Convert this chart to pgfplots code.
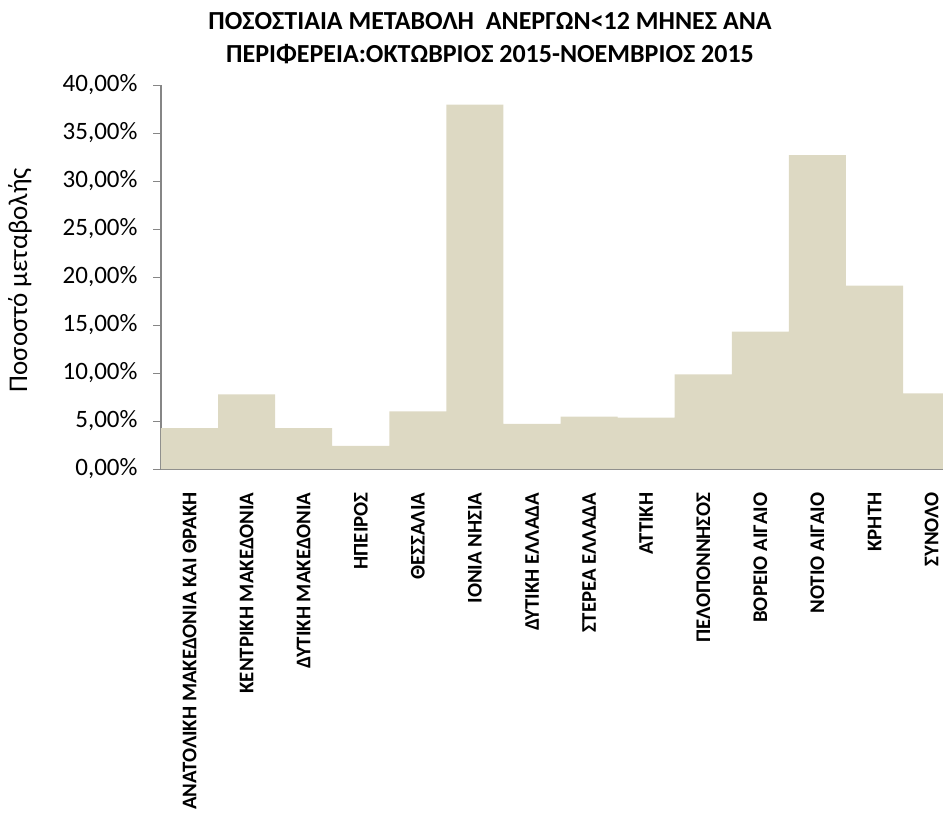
\documentclass[border=0pt]{standalone}
\usepackage{fontspec}
\setmainfont{Carlito}
\usepackage{pgfplots}
\pgfplotsset{compat=1.18}
\definecolor{barfill}{HTML}{DDD9C3}
\definecolor{axisgray}{HTML}{868686}
\begin{document}
\begin{tikzpicture}[x=1pt,y=1pt]
\path[use as bounding box] (-161,-345) rectangle (782,469);
\begin{axis}[
  at={(0,0)}, anchor=south west,
  scale only axis, width=782pt, height=384pt,
  xmin=-0.5, xmax=13.2, ymin=0, ymax=40,
  ybar, bar width=1,
  axis x line*=bottom, axis y line*=left,
  axis line style={axisgray, line width=1.2pt},
  tick align=outside,
  major tick length=8pt,
  ytick={0,5,...,40},
  ytick style={axisgray, line width=1pt},
  xtick={0,...,13},
  xtick style={draw=none},
  /pgf/number format/assume math mode=true,
  yticklabel={\pgfmathprintnumber[fixed, fixed zerofill, precision=2, use comma]{\tick}\%},
  yticklabel style={font=\fontsize{25}{25}\selectfont, text=black},
  yticklabel shift=12pt,
  xticklabels={ΑΝΑΤΟΛΙΚΗ ΜΑΚΕΔΟΝΙΑ ΚΑΙ ΘΡΑΚΗ, ΚΕΝΤΡΙΚΗ ΜΑΚΕΔΟΝΙΑ, ΔΥΤΙΚΗ ΜΑΚΕΔΟΝΙΑ, ΗΠΕΙΡΟΣ, ΘΕΣΣΑΛΙΑ, ΙΟΝΙΑ ΝΗΣΙΑ, ΔΥΤΙΚΗ ΕΛΛΑΔΑ, ΣΤΕΡΕΑ ΕΛΛΑΔΑ, ΑΤΤΙΚΗ, ΠΕΛΟΠΟΝΝΗΣΟΣ, ΒΟΡΕΙΟ ΑΙΓΑΙΟ, ΝΟΤΙΟ ΑΙΓΑΙΟ, ΚΡΗΤΗ, ΣΥΝΟΛΟ},
  xticklabel style={rotate=90, anchor=east, font=\bfseries\fontsize{20.8}{20.8}\selectfont, text=black},
  xticklabel shift=12pt,
]
\addplot[fill=barfill, draw=none] coordinates {
(0,4.27) (1,7.78) (2,4.27) (3,2.40) (4,6.01) (5,37.95) (6,4.69)
(7,5.45) (8,5.35) (9,9.86) (10,14.30) (11,32.70) (12,19.10) (13,7.88)};
\end{axis}
\node[align=center, font=\bfseries\fontsize{26}{33}\selectfont] at (329,430.5) {ΠΟΣΟΣΤΙΑΙΑ ΜΕΤΑΒΟΛΗ\ \ ΑΝΕΡΓΩΝ<12 ΜΗΝΕΣ ΑΝΑ\\ΠΕΡΙΦΕΡΕΙΑ:ΟΚΤΩΒΡΙΟΣ 2015-ΝΟΕΜΒΡΙΟΣ 2015};
\node[rotate=90, font=\fontsize{27}{27}\selectfont] at (-141,189) {Ποσοστό μεταβολής};
\end{tikzpicture}
\end{document}
